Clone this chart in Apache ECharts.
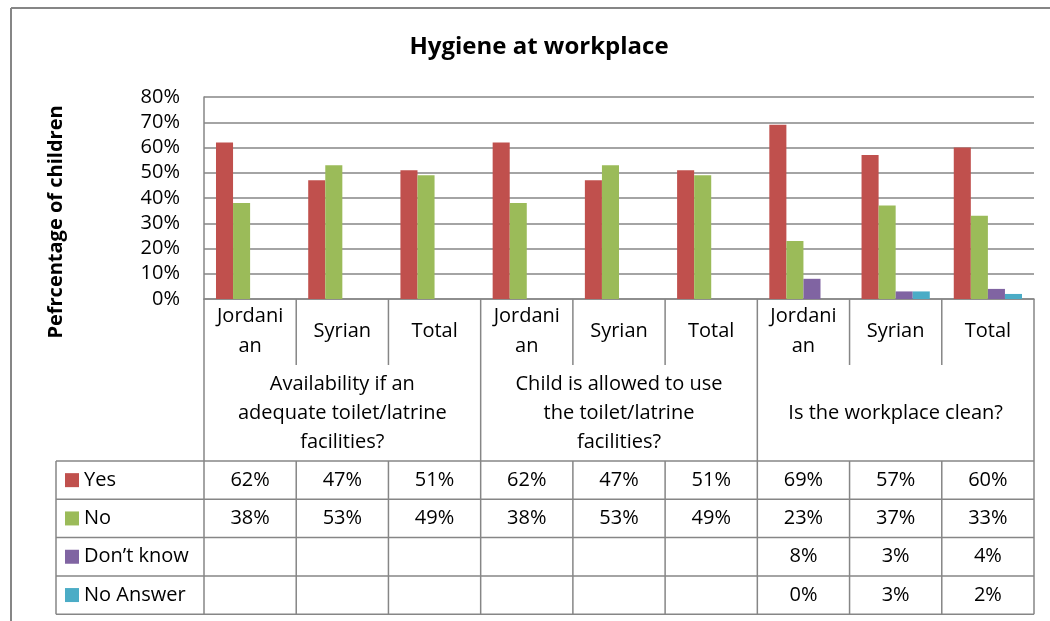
<!DOCTYPE html>
<html>
<head>
<meta charset="utf-8">
<script src="https://cdn.jsdelivr.net/npm/echarts@6/dist/echarts.min.js"></script>
<style>
html,body{margin:0;padding:0;background:#fff;}
#chart{width:1050px;height:621px;}
</style>
</head>
<body>
<div id="chart"></div>
<script>
// ---- data ----
var categories = ['Jordani\nan', 'Syrian', 'Total', 'Jordani\nan', 'Syrian', 'Total', 'Jordani\nan', 'Syrian', 'Total'];
var groupLabels = ['Availability if an\nadequate toilet/latrine\nfacilities?', 'Child is allowed to use\nthe toilet/latrine\nfacilities?', 'Is the workplace clean?'];
var seriesNames = ['Yes', 'No', 'Don\u2019t know', 'No Answer'];
var yesValues = [62, 47, 51, 62, 47, 51, 69, 57, 60];
var noValues = [38, 53, 49, 38, 53, 49, 23, 37, 33];
var dontKnowValues = [null, null, null, null, null, null, 8, 3, 4];
var noAnswerValues = [null, null, null, null, null, null, 0, 3, 2];
var yTicks = [0, 10, 20, 30, 40, 50, 60, 70, 80];
var colors = ['#C0504D', '#9BBB59', '#8064A2', '#4BACC6'];

var FONT = '"Open Sans", Lato, "Liberation Sans", sans-serif';
var LINE = '#868686';
var allValues = [yesValues, noValues, dontKnowValues, noAnswerValues];

var chart = echarts.init(document.getElementById('chart'), null, {renderer: 'canvas'});

var option = {
  backgroundColor: '#ffffff',
  animation: false,
  textStyle: {fontFamily: FONT},
  grid: {left: 204, right: 16, top: 97, bottom: 322, containLabel: false, outerBoundsMode: 'none'},
  xAxis: {
    type: 'category',
    data: categories,
    axisLine: {show: true, lineStyle: {color: LINE, width: 1.5}},
    axisTick: {show: false},
    axisLabel: {
      interval: 0, margin: 32, verticalAlign: 'middle',
      fontFamily: FONT, fontSize: 20, color: '#000', lineHeight: 30
    }
  },
  yAxis: {
    type: 'value',
    min: yTicks[0], max: yTicks[yTicks.length - 1], interval: 10,
    axisLine: {show: true, lineStyle: {color: LINE, width: 1.5}},
    axisTick: {show: false},
    splitLine: {show: true, lineStyle: {color: LINE, width: 1.5}},
    axisLabel: {
      margin: 24, fontFamily: FONT, fontSize: 20, color: '#000',
      formatter: '{value}%'
    }
  },
  series: seriesNames.map(function (name, i) {
    return {
      name: name, type: 'bar', data: allValues[i],
      barGap: '0%', barCategoryGap: '26%',
      itemStyle: {color: colors[i]}
    };
  })
};
chart.setOption(option);

// ---- table (positions derived from the axes) ----
var xLeft = chart.convertToPixel({xAxisIndex: 0}, 0);
var xNext = chart.convertToPixel({xAxisIndex: 0}, 1);
var bw = xNext - xLeft;
var x0 = xLeft - bw / 2;
var xs = [];
for (var i = 0; i <= categories.length; i++) xs.push(x0 + i * bw);
var yBase = chart.convertToPixel({yAxisIndex: 0}, 0);
var yLabelRowEnd = yBase + 66;
var yTableTop = yBase + 162;
var rowH = 38.3;
var tableLeft = 56;
var xRight = xs[xs.length - 1];
var yBottom = yTableTop + rowH * seriesNames.length;

var g = [];
function line(x1, y1, x2, y2, w, c) {
  g.push({type: 'line', silent: true, shape: {x1: x1, y1: y1, x2: x2, y2: y2},
    style: {stroke: c || LINE, lineWidth: w || 1.5}});
}
function text(str, x, y, opts) {
  opts = opts || {};
  g.push({type: 'text', silent: true, x: x, y: y, rotation: opts.rotation || 0,
    style: {text: str, fill: '#000', fontFamily: FONT, fontSize: opts.fontSize || 20,
      fontWeight: opts.fontWeight || 'normal', align: opts.align || 'center',
      verticalAlign: 'middle', lineHeight: opts.lineHeight || 29}});
}

// title
text('Hygiene at workplace', 539, 47, {fontWeight: 'bold', fontSize: 24, lineHeight: 30});

// outer chart border
line(11, 8, 1050, 8, 2);
line(11, 8, 11, 621, 2);

// vertical lines
for (var i = 0; i < xs.length; i++) {
  if (i % 3 === 0) {
    line(xs[i], yBase, xs[i], yBottom);
  } else {
    line(xs[i], yBase, xs[i], yLabelRowEnd);
    line(xs[i], yTableTop, xs[i], yBottom);
  }
}
line(tableLeft, yTableTop, tableLeft, yBottom);
// horizontal lines
for (var r = 0; r <= seriesNames.length; r++) {
  line(tableLeft, yTableTop + r * rowH, xRight, yTableTop + r * rowH);
}

// group labels
for (var k = 0; k < groupLabels.length; k++) {
  text(groupLabels[k], (xs[k * 3] + xs[k * 3 + 3]) / 2, (yLabelRowEnd + yTableTop) / 2);
}

// legend keys + data cells
for (var r = 0; r < seriesNames.length; r++) {
  var cy = yTableTop + r * rowH + rowH / 2;
  g.push({type: 'rect', silent: true, shape: {x: 65, y: cy - 7, width: 14, height: 14},
    style: {fill: colors[r]}});
  text(seriesNames[r], 84, cy, {align: 'left'});
  var vals = allValues[r];
  for (var c = 0; c < vals.length; c++) {
    if (vals[c] !== null && vals[c] !== undefined) {
      text(vals[c] + '%', x0 + (c + 0.5) * bw, cy);
    }
  }
}

// y axis title
text('Pefrcentage of children', 56, 222, {rotation: Math.PI / 2, fontWeight: 'bold', fontSize: 20});

chart.setOption({graphic: {elements: g}});
</script>
</body>
</html>
